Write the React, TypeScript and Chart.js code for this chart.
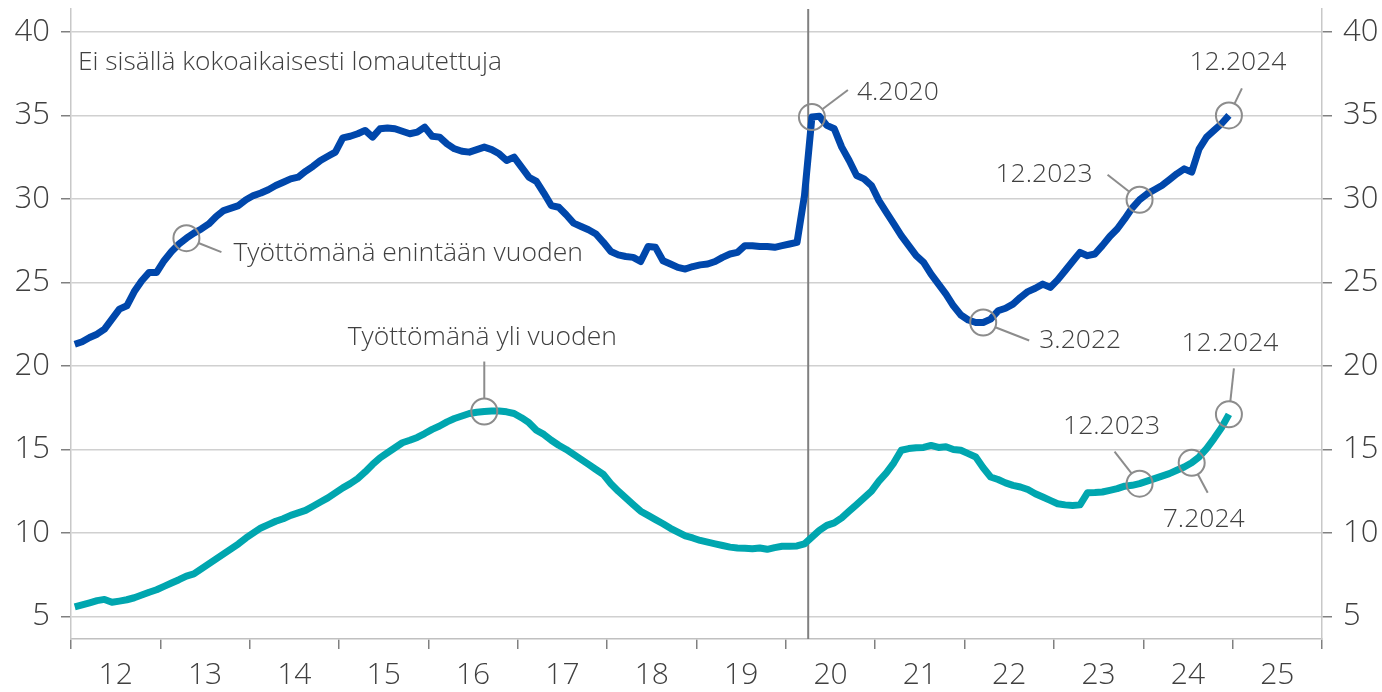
import React, { useEffect, useRef } from 'react';
import { Chart, registerables } from 'chart.js';

Chart.register(...registerables);

// ---- data ----
const startYear = 2012;
const yearLabels = ['12', '13', '14', '15', '16', '17', '18', '19', '20', '21', '22', '23', '24', '25'];
const yTicks = [5, 10, 15, 20, 25, 30, 35, 40];

// Työttömänä enintään vuoden, 1.2012 – 12.2024 (monthly)
const shortTerm = [
  21.3, 21.45, 21.7, 21.9, 22.2, 22.8, 23.4, 23.6, 24.45, 25.1, 25.6, 25.6,
  26.3, 26.85, 27.3, 27.65, 27.95, 28.2, 28.5, 28.95, 29.3, 29.45, 29.6, 29.95,
  30.2, 30.35, 30.55, 30.8, 31.0, 31.2, 31.3, 31.65, 31.95, 32.3, 32.55, 32.8,
  33.65, 33.75, 33.9, 34.1, 33.7, 34.2, 34.25, 34.2, 34.05, 33.9, 34.0, 34.3,
  33.75, 33.7, 33.3, 33.0, 32.85, 32.8, 32.95, 33.1, 32.95, 32.7, 32.3, 32.5,
  31.9, 31.3, 31.05, 30.35, 29.6, 29.5, 29.05, 28.55, 28.35, 28.15, 27.9, 27.4,
  26.85, 26.65, 26.55, 26.5, 26.25, 27.15, 27.1, 26.3, 26.1, 25.9, 25.8, 25.95,
  26.05, 26.1, 26.25, 26.5, 26.7, 26.8, 27.2, 27.2, 27.15, 27.15, 27.1, 27.2,
  27.3, 27.4, 30.2, 34.9, 34.95, 34.4, 34.2, 33.1, 32.3, 31.4, 31.2, 30.8,
  29.9, 29.2, 28.5, 27.8, 27.2, 26.6, 26.2, 25.5, 24.9, 24.3, 23.6, 23.05,
  22.75, 22.6, 22.6, 22.8, 23.3, 23.45, 23.7, 24.1, 24.45, 24.65, 24.9, 24.7,
  25.15, 25.7, 26.25, 26.8, 26.6, 26.7, 27.2, 27.75, 28.2, 28.8, 29.45, 29.95,
  30.3, 30.55, 30.8, 31.15, 31.5, 31.8, 31.6, 33.0, 33.7, 34.1, 34.5, 35.0,
];

// Työttömänä yli vuoden, 1.2012 – 12.2024 (monthly)
const longTerm = [
  5.58, 5.7, 5.82, 5.95, 6.02, 5.85, 5.92, 6.0, 6.12, 6.28, 6.45, 6.6,
  6.8, 7.0, 7.2, 7.42, 7.55, 7.85, 8.15, 8.45, 8.75, 9.05, 9.35, 9.7,
  10.0, 10.3, 10.5, 10.7, 10.85, 11.05, 11.2, 11.35, 11.6, 11.85, 12.1, 12.4,
  12.7, 12.95, 13.25, 13.65, 14.1, 14.5, 14.8, 15.1, 15.4, 15.55, 15.72, 15.95,
  16.2, 16.4, 16.65, 16.85, 17.0, 17.15, 17.23, 17.27, 17.3, 17.3, 17.25, 17.15,
  16.9, 16.6, 16.15, 15.9, 15.55, 15.25, 15.0, 14.7, 14.4, 14.1, 13.8, 13.5,
  12.95, 12.5, 12.1, 11.7, 11.3, 11.05, 10.8, 10.55, 10.28, 10.05, 9.82, 9.7,
  9.55, 9.45, 9.35, 9.25, 9.15, 9.1, 9.08, 9.05, 9.1, 9.02, 9.12, 9.2,
  9.2, 9.22, 9.35, 9.75, 10.15, 10.45, 10.6, 10.9, 11.3, 11.7, 12.1, 12.5,
  13.1, 13.6, 14.2, 14.95, 15.05, 15.1, 15.12, 15.24, 15.12, 15.16, 15.0, 14.95,
  14.75, 14.55, 13.9, 13.35, 13.2, 13.0, 12.85, 12.75, 12.6, 12.35, 12.15, 11.95,
  11.75, 11.68, 11.65, 11.68, 12.4, 12.42, 12.45, 12.55, 12.65, 12.8, 12.85, 12.95,
  13.1, 13.25, 13.4, 13.55, 13.75, 13.95, 14.2, 14.55, 15.05, 15.65, 16.3, 17.1,
];

const seriesNames = ['Työttömänä enintään vuoden', 'Työttömänä yli vuoden'];
const noteText = 'Ei sisällä kokoaikaisesti lomautettuja';
const breakMonth = '4.2020';

// callouts: label (month.year or series name), optional month index, offsets of leader end / text
const callouts = [
  { series: 0, label: 'Työttömänä enintään vuoden', month: 15, end: [35, 14], text: [47, 15], align: 'left' },
  { series: 0, label: '4.2020', end: [36, -27], text: [45, -25], align: 'left' },
  { series: 0, label: '3.2022', end: [46, 18], text: [56, 18], align: 'left' },
  { series: 0, label: '12.2023', end: [-32, -25], text: [-47, -25], align: 'right' },
  { series: 0, label: '12.2024', end: [13, -27], text: [9, -53], align: 'center' },
  { series: 1, label: 'Työttömänä yli vuoden', month: 55, end: [0, -50], text: [-2, -74], align: 'center' },
  { series: 1, label: '12.2023', end: [-25, -32], text: [-28, -57], align: 'center' },
  { series: 1, label: '7.2024', end: [16, 30], text: [12, 57], align: 'center' },
  { series: 1, label: '12.2024', end: [5, -46], text: [1, -71], align: 'center' },
];

// ---- helpers ----
const FONT = '"Open Sans", "Noto Sans", sans-serif';
const TEXT_COLOR = '#404040';
const monthIndex = (s: string) => {
  const [m, y] = s.split('.').map(Number);
  return (y - startYear) * 12 + (m - 1);
};
const allSeries = [shortTerm, longTerm];
const totalMonths = yearLabels.length * 12;

const calloutPlugin = {
  id: 'callouts',
  beforeDatasetsDraw(chart: any) {
    const { ctx, chartArea, scales } = chart;
    const px = scales.x.getPixelForValue(monthIndex(breakMonth));
    ctx.save();
    ctx.strokeStyle = '#808080';
    ctx.lineWidth = 2;
    ctx.beginPath();
    ctx.moveTo(px, chartArea.top);
    ctx.lineTo(px, chartArea.bottom);
    ctx.stroke();
    ctx.restore();
  },
  afterDatasetsDraw(chart: any) {
    const { ctx, chartArea, scales } = chart;
    const xs = scales.x;
    const ys = scales.y;
    ctx.save();
    // note text
    ctx.fillStyle = TEXT_COLOR;
    ctx.font = `300 26.3px ${FONT}`;
    ctx.textAlign = 'left';
    ctx.textBaseline = 'middle';
    ctx.fillText(noteText, chartArea.left + 7, ys.getPixelForValue(38.15));

    const r = 13;
    callouts.forEach((c) => {
      const m = c.month !== undefined ? c.month : monthIndex(c.label);
      const v = allSeries[c.series][m];
      const cx = xs.getPixelForValue(m + 0.5);
      const cy = ys.getPixelForValue(v);
      ctx.strokeStyle = '#8c8c8c';
      ctx.lineWidth = 2;
      ctx.beginPath();
      ctx.arc(cx, cy, r, 0, Math.PI * 2);
      ctx.stroke();
      const ex = cx + c.end[0];
      const ey = cy + c.end[1];
      const d = Math.hypot(c.end[0], c.end[1]);
      ctx.beginPath();
      ctx.moveTo(cx + (c.end[0] / d) * r, cy + (c.end[1] / d) * r);
      ctx.lineTo(ex, ey);
      ctx.stroke();
      ctx.fillStyle = TEXT_COLOR;
      ctx.font = `300 26.5px ${FONT}`;
      ctx.textAlign = c.align as CanvasTextAlign;
      ctx.textBaseline = 'middle';
      ctx.fillText(c.label, cx + c.text[0], cy + c.text[1]);
    });
    ctx.restore();
  },
};

export default function App() {
  const canvasRef = useRef<HTMLCanvasElement | null>(null);

  useEffect(() => {
    if (!canvasRef.current) return;
    const yMin = 3.65;
    const yMax = 41.37;
    const tickFont = { family: FONT, size: 31, weight: 300 as any };
    const xTickFont = { family: FONT, size: 30, weight: 300 as any };
    const setTicks = (s: any) => {
      s.ticks = yTicks.map((v) => ({ value: v }));
    };
    const chart = new Chart(canvasRef.current, {
      type: 'line',
      data: {
        datasets: [
          {
            label: seriesNames[0],
            data: shortTerm.map((v, i) => ({ x: i + 0.5, y: v })),
            borderColor: '#0047AB',
            borderWidth: 7,
            pointRadius: 0,
            tension: 0,
            borderJoinStyle: 'round',
            yAxisID: 'y',
          },
          {
            label: seriesNames[1],
            data: longTerm.map((v, i) => ({ x: i + 0.5, y: v })),
            borderColor: '#00A6AF',
            borderWidth: 7,
            pointRadius: 0,
            tension: 0,
            borderJoinStyle: 'round',
            yAxisID: 'y',
          },
        ],
      },
      options: {
        animation: false,
        responsive: false,
        layout: { padding: { top: 9, left: 0, right: 0, bottom: 0 } },
        plugins: { legend: { display: false }, tooltip: { enabled: false } },
        scales: {
          x: {
            type: 'linear',
            position: 'bottom',
            min: 0,
            max: totalMonths,
            afterBuildTicks: (s: any) => {
              s.ticks = yearLabels.concat(['']).map((_, i) => ({ value: i * 12 }));
            },
            afterFit: (s: any) => {
              s.height = 53;
              s.paddingLeft = 0;
              s.paddingRight = 0;
            },
            grid: { drawOnChartArea: false, drawTicks: true, tickLength: 10, color: '#808080', lineWidth: 1.5 },
            border: { display: true, color: '#c0c0c0', width: 1.5 },
            ticks: {
              autoSkip: false,
              maxRotation: 0,
              labelOffset: 44.65,
              padding: 8,
              color: TEXT_COLOR,
              font: xTickFont,
              callback: (v: any) => yearLabels[Math.round(v / 12)] ?? '',
            },
          },
          y: {
            type: 'linear',
            position: 'left',
            min: yMin,
            max: yMax,
            afterBuildTicks: setTicks,
            afterFit: (s: any) => {
              s.width = 71;
              s.paddingTop = 0;
              s.paddingBottom = 0;
            },
            grid: { color: '#d0d0d0', lineWidth: 1.5, tickLength: 10, tickColor: '#808080' },
            border: { display: true, color: '#c8c8c8', width: 1.5 },
            ticks: { padding: 11, color: TEXT_COLOR, font: tickFont },
          },
          y2: {
            type: 'linear',
            position: 'right',
            min: yMin,
            max: yMax,
            afterBuildTicks: setTicks,
            afterFit: (s: any) => {
              s.width = 60;
              s.paddingTop = 0;
              s.paddingBottom = 0;
            },
            grid: { drawOnChartArea: false, tickLength: 10, color: '#808080', lineWidth: 1.5 },
            border: { display: true, color: '#c8c8c8', width: 1.5 },
            ticks: { padding: 11, color: TEXT_COLOR, font: tickFont },
          },
        },
      },
      plugins: [calloutPlugin],
    } as any);
    return () => chart.destroy();
  }, []);

  return (
    <div style={{ position: 'fixed', left: 0, top: 0, width: 1382, height: 692, background: '#fff' }}>
      <canvas ref={canvasRef} width={1382} height={692} style={{ display: 'block' }} />
    </div>
  );
}
